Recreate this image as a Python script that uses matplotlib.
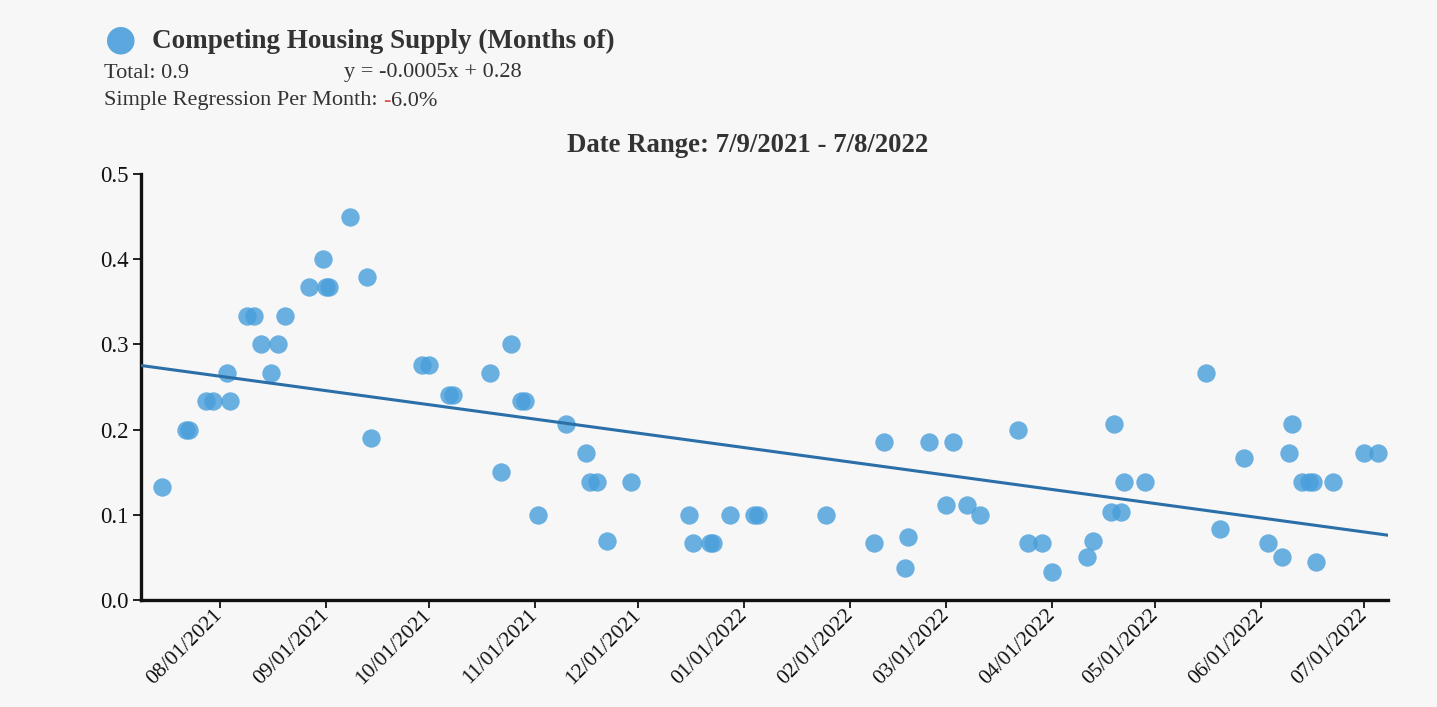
import numpy as np
import pandas as pd
import matplotlib
matplotlib.use("Agg")
import matplotlib.pyplot as plt
import matplotlib.dates as mdates

# ---- data ----
dates = ["2021-07-15", "2021-07-22", "2021-07-23", "2021-07-28", "2021-07-30",
         "2021-08-03", "2021-08-04", "2021-08-09", "2021-08-11", "2021-08-13",
         "2021-08-16", "2021-08-18", "2021-08-20", "2021-08-27", "2021-08-31",
         "2021-09-01", "2021-09-02", "2021-09-08", "2021-09-13", "2021-09-14",
         "2021-09-29", "2021-10-01", "2021-10-07", "2021-10-08", "2021-10-19",
         "2021-10-22", "2021-10-25", "2021-10-28", "2021-10-29", "2021-11-02",
         "2021-11-10", "2021-11-16", "2021-11-17", "2021-11-19", "2021-11-22",
         "2021-11-29", "2021-12-16", "2021-12-17", "2021-12-22", "2021-12-23",
         "2021-12-28", "2022-01-04", "2022-01-05", "2022-01-25", "2022-02-08",
         "2022-02-11", "2022-02-17", "2022-02-18", "2022-02-24", "2022-03-01",
         "2022-03-03", "2022-03-07", "2022-03-11", "2022-03-22", "2022-03-25",
         "2022-03-29", "2022-04-01", "2022-04-11", "2022-04-13", "2022-04-18",
         "2022-04-19", "2022-04-21", "2022-04-22", "2022-04-28", "2022-05-16",
         "2022-05-20", "2022-05-27", "2022-06-03", "2022-06-07", "2022-06-09",
         "2022-06-10", "2022-06-13", "2022-06-15", "2022-06-16", "2022-06-17",
         "2022-06-22", "2022-07-01", "2022-07-05"]
values = [0.133, 0.2, 0.2, 0.233, 0.233,
          0.267, 0.233, 0.333, 0.333, 0.3,
          0.267, 0.3, 0.333, 0.367, 0.4,
          0.367, 0.367, 0.45, 0.379, 0.19,
          0.276, 0.276, 0.241, 0.241, 0.267,
          0.15, 0.3, 0.233, 0.233, 0.1,
          0.207, 0.172, 0.138, 0.138, 0.069,
          0.138, 0.1, 0.067, 0.067, 0.067,
          0.1, 0.1, 0.1, 0.1, 0.067,
          0.185, 0.037, 0.074, 0.185, 0.111,
          0.185, 0.111, 0.1, 0.2, 0.067,
          0.067, 0.033, 0.051, 0.069, 0.103,
          0.207, 0.103, 0.138, 0.138, 0.267,
          0.083, 0.167, 0.067, 0.05, 0.172,
          0.207, 0.138, 0.138, 0.138, 0.045,
          0.138, 0.172, 0.172]
range_start = "2021-07-09"
range_end = "2022-07-08"
tick_dates = ["2021-08-01", "2021-09-01", "2021-10-01", "2021-11-01", "2021-12-01",
              "2022-01-01", "2022-02-01", "2022-03-01", "2022-04-01", "2022-05-01",
              "2022-06-01", "2022-07-01"]
y_ticks = [0.0, 0.1, 0.2, 0.3, 0.4, 0.5]

title = "Competing Housing Supply (Months of)"
total_text = "Total: 0.9"
eq_text = "y = -0.0005x + 0.28"
reg_label = "Simple Regression Per Month: "
reg_sign = "-"
reg_value = "6.0%"
range_text = "Date Range: 7/9/2021 - 7/8/2022"

# ---- styling ----
BG = "#f7f7f7"
TXT = "#333333"
PT = "#4a9fdc"
LINE = "#2b6fa8"
SERIF = ["Liberation Serif", "DejaVu Serif"]

plt.rcParams["font.family"] = SERIF

fig = plt.figure(figsize=(14.37, 7.07), dpi=100, facecolor=BG)
ax = fig.add_axes([141 / 1437, 1 - 600 / 707, (1388 - 141) / 1437, 426 / 707])
ax.set_facecolor(BG)

x = pd.to_datetime(dates)
y = np.array(values)
ax.scatter(mdates.date2num(x), y, s=175, color=PT, alpha=0.82, linewidths=0, zorder=3)

# regression line across the date range
x0 = mdates.date2num(pd.Timestamp(range_start))
x1 = mdates.date2num(pd.Timestamp(range_end))
xn = mdates.date2num(x) - x0
slope, intercept = np.polyfit(xn, y, 1)
xs = np.array([0, x1 - x0])
ax.plot(xs + x0, slope * xs + intercept, color=LINE, lw=2.2, zorder=4)

ax.set_xlim(x0, x1)
ax.set_ylim(0, 0.5)
ax.set_xticks(mdates.date2num(pd.to_datetime(tick_dates)))
ax.xaxis.set_major_formatter(mdates.DateFormatter("%m/%d/%Y"))
ax.set_yticks(y_ticks)
ax.set_yticklabels([f"{v:.1f}" for v in y_ticks])

for s in ["top", "right"]:
    ax.spines[s].set_visible(False)
for s in ["left", "bottom"]:
    ax.spines[s].set_linewidth(2.4)
    ax.spines[s].set_color("#111111")

ax.tick_params(axis="both", direction="out", length=6, width=1.3, color="#111111")
ax.tick_params(axis="y", labelsize=16.5, labelcolor="#111111", pad=3)
ax.tick_params(axis="x", labelsize=15.5, labelcolor="#111111", pad=3)
for lab in ax.get_xticklabels():
    lab.set_rotation(45)
    lab.set_ha("right")
    lab.set_rotation_mode("anchor")
    lab.set_va("center")

# ---- header texts ----
fig.text(121 / 1437, 1 - 40 / 707, "\u25CF", fontsize=26, color=PT, alpha=0.9,
         ha="center", va="center", family=["DejaVu Sans"])
fig.text(152 / 1437, 1 - 41 / 707, title, fontsize=19.5, fontweight="bold",
         color=TXT, ha="left", va="center")
FS = 16
fig.text(104 / 1437, 1 - 73 / 707, total_text, fontsize=FS, color=TXT,
         ha="left", va="center")
fig.text(344 / 1437, 1 - 73 / 707, eq_text, fontsize=FS, color=TXT,
         ha="left", va="center")
t1 = fig.text(104 / 1437, 1 - 101 / 707, reg_label, fontsize=FS, color=TXT,
              ha="left", va="center")
fig.canvas.draw()
bb = t1.get_window_extent()
t2 = fig.text(bb.x1 / 1437, 1 - 101 / 707, reg_sign, fontsize=FS, color="#e0524f",
              ha="left", va="center", fontweight="bold")
fig.canvas.draw()
bb2 = t2.get_window_extent()
fig.text(bb2.x1 / 1437, 1 - 101 / 707, reg_value, fontsize=FS, color=TXT,
         ha="left", va="center")
fig.text(748 / 1437, 1 - 145 / 707, range_text, fontsize=19.3, fontweight="bold",
         color=TXT, ha="center", va="center")

fig.savefig("out.png", dpi=100, facecolor=BG)
